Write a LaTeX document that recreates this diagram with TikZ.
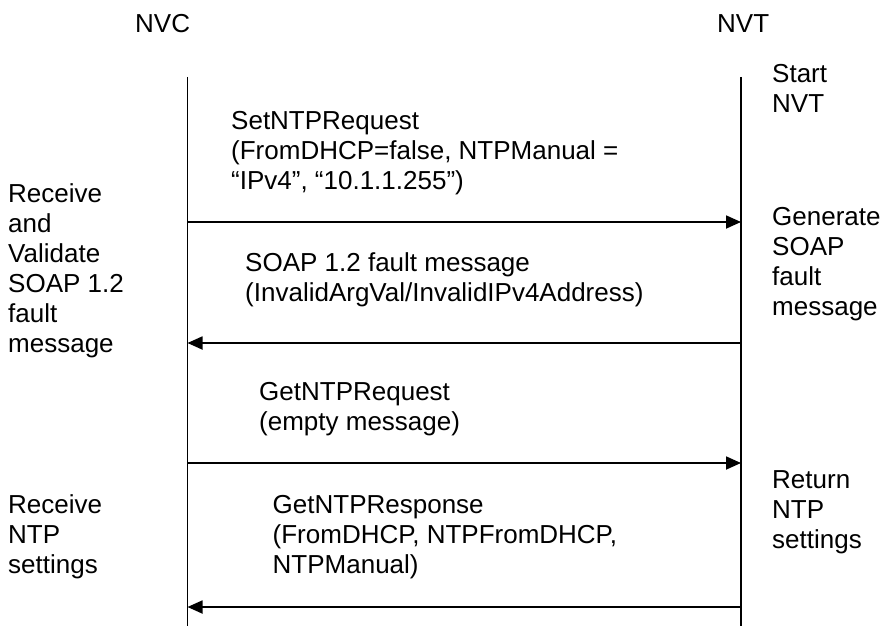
\documentclass[tikz,border=0pt]{standalone}
\usepackage{fontspec}
\setmainfont{Liberation Sans}
\usetikzlibrary{arrows.meta}
\newcommand\mlines[1]{\vtop{\baselineskip=30pt\lineskiplimit=-100pt #1}}
\begin{document}
\begin{tikzpicture}[x=1pt,y=-1pt,
  lbl/.style={anchor=base west,inner sep=0pt,font=\fontsize{26}{30}\selectfont},
  life/.style={line width=1.8pt},
  msg/.style={line width=1.8pt,-{Triangle[length=15pt,width=13pt]}}]
\useasboundingbox[fill=white] (0,0) rectangle (884,626);
% lifelines
\coordinate (nvcTop) at (187.5,77);
\coordinate (nvcBot) at (187.5,626);
\coordinate (nvtTop) at (741,77);
\coordinate (nvtBot) at (741,626);
\draw[life] (nvcTop) -- (nvcBot);
\draw[life] (nvtTop) -- (nvtBot);
% headers
\node[lbl] (hnvc) at (135,33) {NVC};
\node[lbl] (hnvt) at (717,33) {NVT};
% side labels
\node[lbl] (start) at (772,82) {\mlines{\hbox{Start}\hbox{NVT}}};
\node[lbl] (gen) at (772,225) {\mlines{\hbox{Generate}\hbox{SOAP}\hbox{fault}\hbox{message}}};
\node[lbl] (ret) at (772,488) {\mlines{\hbox{Return}\hbox{NTP}\hbox{settings}}};
\node[lbl] (recv1) at (8,202) {\mlines{\hbox{Receive}\hbox{and}\hbox{Validate}\hbox{SOAP 1.2}\hbox{fault}\hbox{message}}};
\node[lbl] (recv2) at (8,513) {\mlines{\hbox{Receive}\hbox{NTP}\hbox{settings}}};
% message labels
\node[lbl] (m1) at (231,129.5) {\mlines{\hbox{SetNTPRequest}\hbox{(FromDHCP=false, NTPManual =}\hbox{“IPv4”, “10.1.1.255”)}}};
\node[lbl] (m2) at (245,271.5) {\mlines{\hbox{SOAP 1.2 fault message}\hbox{(InvalidArgVal/InvalidIPv4Address)}}};
\node[lbl] (m3) at (259,400) {\mlines{\hbox{GetNTPRequest}\hbox{(empty message)}}};
\node[lbl] (m4) at (272.5,513.5) {\mlines{\hbox{GetNTPResponse}\hbox{(FromDHCP, NTPFromDHCP,}\hbox{NTPManual)}}};
% message arrows
\coordinate (c1) at (187.5,222); \coordinate (t1) at (741,222);
\coordinate (c2) at (187.5,343); \coordinate (t2) at (741,343);
\coordinate (c3) at (187.5,463); \coordinate (t3) at (741,463);
\coordinate (c4) at (187.5,607); \coordinate (t4) at (741,607);
\draw[msg] (c1) -- (t1);
\draw[msg] (t2) -- (c2);
\draw[msg] (c3) -- (t3);
\draw[msg] (t4) -- (c4);
\end{tikzpicture}
\end{document}
